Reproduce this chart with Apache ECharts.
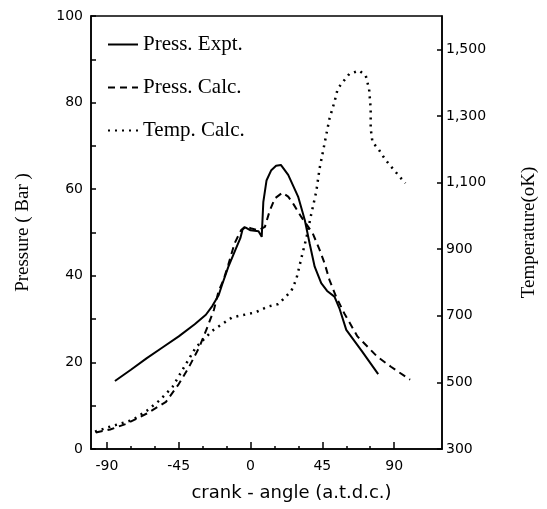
<!DOCTYPE html>
<html>
<head>
<meta charset="utf-8">
<script src="https://cdn.jsdelivr.net/npm/echarts@6/dist/echarts.min.js"></script>
<style>
html, body { margin: 0; padding: 0; background: #fff; }
#container { width: 547px; height: 509px; }
</style>
</head>
<body>
<div id="container"></div>
<script>
// measured pressure (solid line)
var exptAngle = [-85, -75, -65, -55, -45, -35, -28, -24, -20, -17.8, -14, -9.5, -6.4, -5, -3.3, 0, 5, 7, 8, 10, 13, 16, 19, 23.6, 29.8, 34, 37, 40.2, 44.3, 48, 52.6, 55.7, 60, 70, 80];
var exptPress = [15.7, 18.3, 21, 23.5, 26, 28.8, 31, 33, 35.5, 38, 42, 46, 48.7, 50.7, 51.2, 50.5, 50.3, 49, 57, 62, 64.4, 65.4, 65.6, 63.3, 58.3, 52.9, 47.5, 42.1, 38.3, 36.5, 35.2, 32.5, 27.5, 22.5, 17.3];

// calculated pressure (dashed line)
var calcAngle = [-97, -88, -78, -65, -53, -45, -38.5, -32, -27, -23, -20, -17, -14, -10, -6, -3, 0, 5, 9, 12, 15.3, 20, 23.6, 27, 31.8, 39, 43.3, 46.4, 49.5, 53.6, 58.8, 67, 79.5, 88, 100];
var calcPress = [3.8, 4.5, 5.8, 8.2, 10.9, 15, 19, 23.6, 28.2, 32.1, 36.5, 39, 42.5, 47.5, 50.5, 51.5, 51, 50.5, 51.3, 55, 57.9, 59.2, 58.3, 56.5, 53.6, 49.8, 46, 42.9, 39, 35.2, 31.3, 26, 21.3, 19, 16];

// calculated temperature (dotted line, right axis)
var tempAngle = [-97.5, -88, -74, -65, -57, -49, -41.6, -34.3, -24, -11.6, 3, 11, 17.4, 25.6, 28.7, 31.9, 35, 38, 41.2, 43.3, 45.4, 47.4, 49.5, 52.6, 54.6, 57.7, 61.9, 68.1, 72.2, 74.3, 75.3, 75.3, 76.4, 80.5, 84.6, 89.8, 97];
var tempK = [352, 367, 387, 415, 446, 486, 546, 605, 655, 695, 710, 728, 735, 775, 810, 874, 934, 1004, 1073, 1143, 1193, 1242, 1292, 1342, 1381, 1401, 1426, 1436, 1421, 1381, 1322, 1262, 1222, 1198, 1168, 1138, 1098];

var xMajor = [-90, -45, 0, 45, 90];
var xMinor = [-75, -60, -30, -15, 15, 30, 60, 75];
var pressTicks = [0, 20, 40, 60, 80, 100];
var tempTicks = [300, 500, 700, 900, 1100, 1300, 1500];

function pairs(xs, ys) {
    var out = [];
    for (var i = 0; i < xs.length; i++) out.push([xs[i], ys[i]]);
    return out;
}

var dom = document.getElementById('container');
var myChart = echarts.init(dom, null, { renderer: 'canvas' });

var tickFont = { fontFamily: 'DejaVu Sans', fontSize: 14, color: '#000' };
var black = { color: '#000', width: 1.5 };

var option = {
    animation: false,
    backgroundColor: '#fff',
    grid: {
        left: 91, right: 104, top: 16, bottom: 60,
        show: true, borderColor: '#000', borderWidth: 1.5, backgroundColor: 'transparent'
    },
    legend: {
        orient: 'vertical',
        left: 102, top: 29,
        itemWidth: 30, itemHeight: 14, itemGap: 22,
        data: ['Press. Expt.', 'Press. Calc.', 'Temp. Calc.'],
        itemStyle: { opacity: 0 },
        textStyle: { fontFamily: 'Liberation Serif', fontSize: 21, color: '#000' }
    },
    xAxis: [{
        type: 'value', min: -100, max: 120, position: 'bottom',
        axisLine: { show: true, onZero: false, lineStyle: black },
        axisTick: { show: true, inside: true, length: 7, customValues: xMajor, lineStyle: black },
        axisLabel: Object.assign({ customValues: xMajor, margin: 10 }, tickFont),
        splitLine: { show: false },
        name: 'crank - angle (a.t.d.c.)', nameLocation: 'middle', nameGap: 35,
        nameTextStyle: { fontFamily: 'DejaVu Sans', fontSize: 18, color: '#000', padding: [0, 0, 0, 50] }
    }, {
        type: 'value', min: -100, max: 120, position: 'bottom',
        axisLine: { show: false },
        axisTick: { show: true, inside: true, length: 3, customValues: xMinor, lineStyle: black },
        axisLabel: { show: false },
        splitLine: { show: false }
    }],
    yAxis: [{
        type: 'value', min: 0, max: 100, interval: 10, position: 'left',
        axisLine: { show: true, onZero: false, lineStyle: black },
        axisTick: { show: true, inside: true, length: 5, lineStyle: black },
        axisLabel: Object.assign({ customValues: pressTicks, margin: 8 }, tickFont),
        splitLine: { show: false },
        name: 'Pressure ( Bar )', nameLocation: 'middle', nameGap: 58, nameRotate: 90,
        nameTextStyle: { fontFamily: 'Liberation Sans Narrow', fontSize: 19, color: '#000' }
    }, {
        type: 'value', min: 300, max: 1600, position: 'right',
        axisLine: { show: true, onZero: false, lineStyle: black },
        axisTick: { show: true, inside: true, length: 5, customValues: tempTicks, lineStyle: black },
        axisLabel: Object.assign({
            customValues: tempTicks, margin: 4,
            formatter: function (v) { return v.toLocaleString('en-US'); }
        }, tickFont),
        splitLine: { show: false },
        name: 'Temperature(oK)', nameLocation: 'middle', nameGap: 78, nameRotate: 90,
        nameTextStyle: { fontFamily: 'Liberation Sans Narrow', fontSize: 19, color: '#000' }
    }],
    series: [{
        name: 'Press. Expt.', type: 'line', xAxisIndex: 0, yAxisIndex: 0,
        data: pairs(exptAngle, exptPress),
        symbol: 'none', showSymbol: false,
        itemStyle: { color: '#000' },
        lineStyle: { color: '#000', width: 2 }
    }, {
        name: 'Press. Calc.', type: 'line', xAxisIndex: 0, yAxisIndex: 0,
        data: pairs(calcAngle, calcPress),
        symbol: 'none', showSymbol: false,
        itemStyle: { color: '#000' },
        lineStyle: { color: '#000', width: 2, type: [7, 5] }
    }, {
        name: 'Temp. Calc.', type: 'line', xAxisIndex: 0, yAxisIndex: 1,
        data: pairs(tempAngle, tempK),
        symbol: 'none', showSymbol: false,
        itemStyle: { color: '#000' },
        lineStyle: { color: '#000', width: 2.5, type: [2, 5] }
    }]
};

myChart.setOption(option);
</script>
</body>
</html>
